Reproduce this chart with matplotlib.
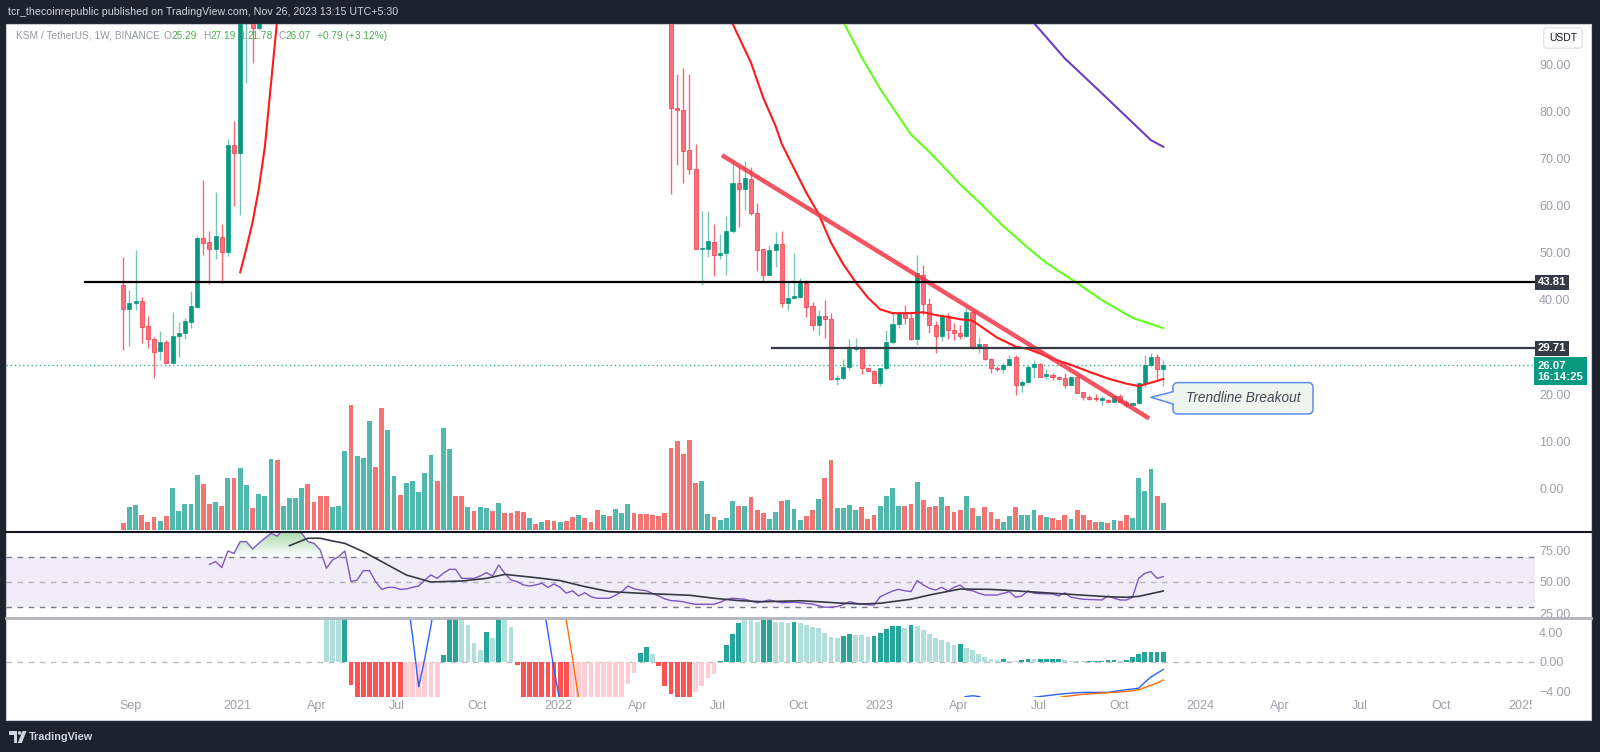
import numpy as np
import pandas as pd
import matplotlib
matplotlib.use("Agg")
import matplotlib.pyplot as plt
import matplotlib.dates as mdates
from matplotlib import font_manager as fm
from matplotlib.colors import to_rgb
from matplotlib.patches import Rectangle, FancyBboxPatch, Polygon, Circle
from matplotlib.lines import Line2D
from matplotlib.path import Path
from matplotlib.transforms import Bbox, IdentityTransform, blended_transform_factory

NaN = float("nan")

# ======================= DATA =======================
first_week = "2020-08-24"
n_weeks = 170
hidden_weeks = 66          # Jan 2021 .. May 2022: candles entirely above the visible range

open_a = [43.1, 38.0, 39.4, 39.8, 34.5, 31.8, 29.1, 31.1, 26.7, 32.3, 32.9, 35.4, 38.6, 53.1, 52.4,
          50.8, 53.5, 50.3, 73.0, 71.2, 104, 120, 97.8]
high_a = [49.1, 42.1, 50.6, 40.6, 36.7, 32.2, 33.3, 31.5, 37.5, 35.4, 36.1, 42.0, 53.7, 65.5, 54.7,
          62.9, 56.2, 74.2, 78.1, 130, 140, 125, 150]
low_a = [29.4, 30.2, 37.9, 30.9, 29.7, 23.3, 27.2, 26.5, 26.5, 27.8, 31.8, 34.0, 38.2, 49.6, 43.4,
         48.7, 43.6, 49.4, 59.9, 58.1, 86.1, 90.4, 97.5]
close_a = [38.0, 39.3, 39.8, 34.3, 31.8, 29.0, 31.1, 26.7, 32.3, 32.9, 35.5, 38.7, 53.1, 52.2, 50.8,
           53.6, 50.3, 73.0, 71.2, 104, 120, 97.8, 140]

open_b = [130, 80.9, 80.4, 71.9, 67.8, 50.8, 50.8, 52.4, 49.5, 49.9,
          54.7, 64.8, 63.6, 65.7, 58.6, 50.8, 45.3, 50.6, 51.9, 39.4,
          40.5, 40.7, 43.7, 38.7, 34.7, 36.6, 36.0, 23.2, 23.5, 25.8,
          29.5, 29.9, 25.5, 25.0, 22.4, 25.5, 31.1, 34.9,
          37.2, 36.2, 31.8, 45.3, 39.1, 34.7, 32.4, 36.6, 33.6, 32.9,
          32.4, 37.5, 29.8, 30.6, 27.4, 25.6, 25.3, 26.2, 27.8, 21.9,
          22.6, 25.8, 26.3, 23.9, 24.0, 23.6, 23.3, 21.9, 23.6, 20.4,
          19.4, 19.2, 18.8, 18.7, 18.4, 19.6, 18.4, 17.7, 18.0, 22.3,
          26.2, 27.9, 25.29]
high_b = [140, 88.1, 89.3, 88.1, 73.2, 58.9, 58.9, 56.1, 54.0, 57.9,
          69.9, 68.4, 69.6, 68.3, 60.7, 50.9, 51.7, 54.5, 54.7, 44.0,
          49.9, 44.6, 44.2, 39.6, 37.9, 40.0, 37.2, 24.0, 27.4, 31.6,
          31.9, 29.9, 25.6, 25.2, 25.5, 33.6, 37.2, 37.7,
          38.9, 37.5, 49.6, 47.4, 40.4, 35.6, 37.0, 37.2, 35.0, 34.7,
          38.6, 38.0, 32.2, 30.6, 27.6, 26.0, 26.5, 28.3, 28.3, 23.0,
          26.2, 27.2, 26.5, 25.4, 24.5, 23.8, 24.4, 23.8, 23.8, 20.5,
          19.8, 20.0, 19.6, 18.9, 19.8, 20.1, 18.8, 18.3, 22.5, 28.3,
          28.7, 28.5, 27.19]
low_b = [62.6, 68.7, 64.8, 66.8, 50.8, 43.2, 49.1, 45.1, 48.7, 45.3,
         54.2, 55.6, 59.1, 58.0, 46.2, 43.8, 45.3, 47.0, 38.6, 37.9,
         40.4, 40.4, 36.4, 33.6, 32.6, 31.9, 23.0, 21.9, 22.9, 25.1,
         29.2, 24.3, 25.0, 22.3, 21.7, 25.1, 30.6, 34.0,
         34.9, 31.5, 30.4, 36.8, 32.9, 28.8, 31.2, 31.6, 31.5, 31.6,
         32.2, 29.5, 28.8, 27.2, 24.4, 24.9, 24.4, 26.0, 19.8, 20.5,
         22.4, 23.3, 23.6, 23.1, 23.0, 22.9, 21.2, 21.7, 20.3, 18.7,
         18.7, 18.6, 17.7, 18.2, 18.2, 18.2, 17.3, 17.6, 17.9, 21.5,
         25.8, 23.1, 21.78]
close_b = [80.9, 80.4, 71.8, 67.9, 50.8, 50.9, 52.6, 49.5, 49.9, 54.7,
           64.8, 63.6, 65.9, 58.6, 50.6, 45.3, 50.6, 51.9, 39.4, 40.5,
           40.7, 43.7, 38.6, 34.7, 36.6, 36.0, 23.2, 23.5, 25.8, 29.5,
           29.7, 25.5, 25.0, 22.4, 25.5, 31.1, 34.9, 37.2,
           36.2, 31.8, 45.7, 39.1, 34.7, 32.4, 36.6, 33.6, 32.9, 32.4,
           37.5, 29.9, 30.6, 27.4, 25.5, 25.3, 26.1, 27.4, 21.9, 22.6,
           25.8, 26.3, 23.7, 24.1, 23.6, 23.2, 21.9, 23.7, 20.3, 19.3,
           18.9, 18.9, 18.9, 18.4, 19.6, 18.4, 17.7, 18.0, 22.3, 26.2,
           27.9, 25.28, 26.07]

# volume (relative units), direction G/R as coloured on the chart
volume_a = [7.3, 23, 25, 15.3, 8, 13, 9, 14.3, 41.7, 18.7,
            25.7, 25.7, 54.7, 46, 25.7, 28.3, 24, 52, 52, 62.3,
            45, 22.3, 36, 34.3, 71, 69.7, 24, 32, 32, 42.3,
            46, 28.3, 33.7, 34.3, 23, 24, 79, 125, 73.7, 72,
            109.3, 63.3, 121.7, 100, 54.3, 35.3, 46.7, 49.3, 38, 57,
            74.7, 49.3, 102.3, 81, 34.3, 34.3, 23, 18.7, 23, 22.3,
            18.7, 26.7, 17, 17, 18.7, 18, 11.7, 6.3, 8.3, 10,
            9, 8.3, 9, 13, 15.3, 12, 8.3, 19.7, 15.3, 13.7,
            20.7, 17, 25.7, 17, 16.3]
volume_b = [16, 15, 14.3, 17, 81.7, 88.7, 76.3, 90.3, 46.7, 49.3,
            16, 13.3, 10, 11.7, 29.3, 24, 24, 32.7, 19.7, 17,
            11, 18, 29.3, 30, 20.7, 10, 13.7, 19.7, 31, 52,
            70, 22, 22, 25, 19.7, 23, 11, 15.3, 24, 33.7,
            42.3, 24, 24, 25.7, 48.3, 30, 23, 24, 32.7, 24,
            18, 19.7, 34.3, 22, 14.3, 23, 18, 11, 8.3, 14.3,
            23, 15.3, 15.3, 19.7, 15.3, 12.7, 11.7, 10, 15.3, 11,
            19.7, 15.3, 10, 8.3, 8.3, 6.7, 10, 9.3, 15.3, 11.7,
            52, 39, 60.7, 34.3, 26.7]
volume_dir = ("RGGRRRGRGG" "GGGRRGRGRG" "GRGGGRGGGG" "RRRRGGGRGG" "GRRGGRGGGG"
              "GRGGRRGRGG" "RGRRRRGRGR" "RGRRGRRRGR" "GGGRR"
              "RRRRRRRRRG" "GRGGGRGRRR" "GGRGGGRRGR" "RGGGGRRRGG" "GGRRGRRRGR"
              "RRGRGRRRGG" "RGGGRGRRRG" "RRRRGRGRRG" "GGGRG")

# moving averages (week index, value)
ema_red_wk_a = [19, 20, 21, 22, 23, 24, 25, 26]
ema_red_val_a = [45.9, 51.0, 56.5, 63.5, 72.5, 86.0, 99.5, 113.0]
ema_red_wk_b = [98, 99, 102, 104, 106, 107, 109, 111, 113, 115, 117, 119, 121, 123, 125, 128, 130,
                132, 134, 136, 138, 140, 142, 145, 147, 149, 151, 154, 157, 160, 163, 165, 167, 169]
ema_red_val_b = [102, 98.8, 90.5, 83, 77, 73.2, 68, 62.8, 58.3, 52.2, 47.6, 43.8, 40.5, 38, 37.2, 37.2,
                 37.4, 36.8, 36.4, 35.9, 35.6, 33.8, 32, 30.1, 29.6, 28.6, 27.5, 26.2, 24.7, 23.3,
                 22.2, 21.7, 22.4, 23.2]
ema_green_wk = [116, 117, 120, 123, 128, 131, 136, 139, 143, 147, 150, 155, 159, 164, 169]
ema_green_val = [101.3, 99.2, 91.6, 84.9, 75.2, 71.5, 64.6, 60.9, 55.7, 51.1, 47.9, 43.6, 40.0, 36.2, 34.0]
ema_purple_wk = [147, 148, 153, 159, 165, 167, 169]
ema_purple_val = [100.7, 98.9, 91.4, 84.0, 76.5, 74.0, 72.6]

# drawings
trend_dates = ["2022-07-06", "2023-11-04"]
trend_prices = [70.8, 14.8]
level_prices = [43.81, 29.71]
level_starts = ["2020-07-12", "2022-09-01"]
last_price = 26.07
countdown = "16:14:25"
callout_text = "Trendline Breakout"
callout_week = 167
callout_price = 19.3

# RSI(14) and its MA
rsi_first_week = 14
rsi_values = [64.1, 66.3, 61.5, 74.8, 72.9, 82.3, 82.3, 76.4, 80.9, 85.0,
              88.9, 86.8, 92.0, 93.0, 91.0, 89.0, 82.3, 80.9, 75.6, 61.0,
              67.6, 70.3, 74.8, 50.3, 51.6, 59.1, 59.1, 50.3, 44.1, 45.7,
              45.7, 44.1, 44.5, 45.7, 46.8, 51.6, 55.6, 52.9, 57.0, 60.1,
              60.1, 52.9, 52.9, 52.9, 54.8, 57.5, 54.8, 63.6, 56.9, 51.6,
              50.3, 47.6, 46.8, 47.6, 49.0, 45.7, 48.4, 45.7, 41.0, 43.0,
              38.8, 41.4, 38.2, 37.0, 37.0, 37.0, 39.5, 42.3, 46.8, 44.5,
              43.6, 43.0, 40.8, 38.8, 36.5, 35.1, 34.8, 34.2, 33.0, 32.2,
              32.2, 32.2, 32.2, 33.8, 36.0, 37.0, 36.6, 36.2, 34.8, 33.4,
              34.5, 35.6, 34.5, 33.4, 33.6, 33.8, 33.4, 32.8, 32.4, 31.0,
              29.8, 30.0, 30.3, 32.0, 34.2, 33.0, 32.3, 31.8, 31.6, 38.2,
              40.5, 42.8, 44.1, 43.0, 42.3, 51.1, 47.6, 45.0, 43.6, 45.7,
              42.8, 45.7, 47.6, 43.6, 43.0, 41.0, 39.6, 39.6, 39.6, 41.0,
              42.3, 37.8, 38.8, 42.8, 41.0, 40.7, 40.5, 40.4, 38.8, 41.4,
              37.8, 37.0, 36.2, 36.0, 35.8, 35.6, 38.8, 37.0, 35.6, 35.6,
              37.8, 52.9, 56.9, 58.3, 52.9, 54.3]
rsi_ma_wk = [27, 29, 30, 32, 34, 36, 39, 43, 46, 50, 55, 59, 62, 67, 71, 75, 79, 84, 88, 92,
             96, 100, 104, 110, 113, 117, 120, 123, 128, 131, 136, 141, 147, 153, 160, 163, 165, 169]
rsi_ma_val = [79.1, 83.0, 85.0, 85.0, 82.8, 80.9, 74.3, 63.6, 55.6, 50.0, 50.8, 52.9, 56.1, 53.5,
              51.1, 46.3, 42.3, 41.0, 40.2, 39.4, 37.0, 35.1, 34.2, 35.0, 34.2, 33.0, 32.4, 33.0,
              36.2, 39.6, 44.4, 44.1, 42.3, 40.4, 38.2, 37.8, 38.5, 42.8]

# MACD histogram (weeks 33..169) with its colour code D/L/R/P
hist_first_week = 33
hist_values = [8, 8, 8, 8, -3.1, -8, -8, -8, -8, -8, -8, -8, -8,
               -8, -8, -8, -8, -8, -8,
               0.9, 8, 8, 8, 4.9, 2.5, 1.6, 4.0, 3.2, 8, 8, 4.7,
               -0.4, -8, -8, -8, -8, -8, -8, -8, -8,
               -8, -8, -8, -8, -8, -8, -8, -8, -8, -2.9, -1.5,
               1.2, 2.0, 1.1, -0.5, -3.2, -4.3, -8, -8, -8, -4.0, -3.2, -2.2, -1.6,
               0.1, 2.3, 3.8, 5.2, 5.6, 5.6, 5.4, 5.6, 6.0, 5.4, 5.3, 5.2, 5.4,
               5.16, 4.93, 4.71, 4.6, 3.91, 3.38, 3.24, 3.47, 3.73, 3.6,
               3.6, 3.38, 3.47, 3.82, 4.36, 4.8, 4.85, 4.49, 4.93, 4.8,
               4.27, 3.69, 3.24, 2.93, 2.62, 2.27, 2.4, 1.91, 1.6, 1.07,
               0.71, 0.4, 0.31, 0.44, 0.18, 0.15, 0.27, 0.4, 0.35, 0.38,
               0.4, 0.42, 0.44, 0.27, 0.18, 0.13, 0.09, 0.18, 0.18, 0.18,
               0.22, 0.27, 0.18, 0.3, 0.62, 1.07, 1.38, 1.4, 1.4, 1.4]
hist_colors = ("LLLD" "R" "RRRRRRRR" "PPPPPP" "DDDLLLLDLDLL" "R" "RRRRRRRR" "PPPPPPPPPPP"
               "DDL" "RRRRRR" "PPPP" "DDDDLLLDDLLLD"
               "LLLLLLLDDL" "LLDDDDDLDL" "LLLLLLDLLL" "LLLDLLDDLD" "DDDLLLLDDD" "DDLDDDDDDD")
macd_wk_a = [45, 46, 47, 48, 49, 50, 51]
macd_val_a = [14, 9.5, 3.5, -3.3, 0.5, 4.9, 10]
macd_wk_b = [67, 68, 69, 70, 71, 72]
macd_val_b = [14, 9, 4, -1, -5.5, -10]
macd_wk_c = [135, 136, 137, 138, 139, 140, 141]
macd_val_c = [-5.5, -4.9, -4.6, -4.5, -4.6, -4.9, -5.3]
macd_wk_d = [146, 147, 148, 150, 152, 154, 156, 158, 160, 162, 164, 165, 166, 167, 168, 169]
macd_val_d = [-5.2, -4.9, -4.7, -4.5, -4.3, -4.15, -4.05, -4.05, -4.05, -3.8, -3.6, -3.5, -2.7, -2.0, -1.5, -1.0]
signal_wk_a = [71, 72, 73, 74, 75]
signal_val_a = [10, 5.5, 0.5, -5, -10]
signal_wk_b = [150, 151, 153, 156, 159, 162, 164, 165, 166, 167, 168, 169]
signal_val_b = [-5.2, -4.9, -4.6, -4.3, -4.15, -4.0, -3.85, -3.7, -3.4, -3.1, -2.8, -2.4]

price_ticks = [0, 10, 20, 40, 50, 60, 70, 80, 90]
rsi_ticks = [25, 50, 75]
macd_ticks = [-4, 0, 4]
date_ticks = ["2020-09-01", "2021-01-01", "2021-04-01", "2021-07-01", "2021-10-01", "2022-01-01",
              "2022-04-01", "2022-07-01", "2022-10-01", "2023-01-01", "2023-04-01", "2023-07-01",
              "2023-10-01", "2024-01-01", "2024-04-01", "2024-07-01", "2024-10-01", "2025-01-01"]
date_labels = ["Sep", "2021", "Apr", "Jul", "Oct", "2022", "Apr", "Jul", "Oct", "2023", "Apr", "Jul",
               "Oct", "2024", "Apr", "Jul", "Oct", "2025"]
header_text = "tcr_thecoinrepublic published on TradingView.com, Nov 26, 2023 13:15 UTC+5:30"
symbol_text = "KSM / TetherUS, 1W, BINANCE"

# ======================= STYLE =======================
names = {f.name for f in fm.fontManager.ttflist}
FONT = "Liberation Sans Narrow" if "Liberation Sans Narrow" in names else "Liberation Sans"
plt.rcParams["font.family"] = [FONT, "DejaVu Sans"]

W, H = 1600, 752
DARK = "#1e222d"
UP, DOWN = "#089981", "#f23645"
AXTXT = "#9da0a8"
LBL = 9.0
TAG = 8.2

def fx(px):
    return px / W

def fy(py):
    return 1 - py / H

fig = plt.figure(figsize=(16, 7.52), dpi=100, facecolor=DARK)
fig.patches.append(Rectangle((fx(6), fy(720)), fx(1591) - fx(6), fy(24) - fy(720),
                             transform=fig.transFigure, facecolor="white",
                             edgecolor="#c9ccd4", lw=0.8, zorder=-5))

PL, PR = 6, 1535
AXW = PR - PL

def add_ax(top, bottom):
    a = fig.add_axes([fx(PL), fy(bottom), fx(PR) - fx(PL), fy(top) - fy(bottom)])
    a.set_facecolor("none")
    for s in a.spines.values():
        s.set_visible(False)
    return a

ax_vol = add_ax(24, 532)
ax = add_ax(24, 532)
ax_rsi = add_ax(532, 618)
ax_macd = add_ax(618, 697)

weeks = pd.date_range(first_week, periods=n_weeks, freq="7D")
x = mdates.date2num(weeks.to_pydatetime())
px_per_day = 0.8791
x0 = x[0] - (123.3 - PL) / px_per_day
x1 = x[0] + (PR - 123.3) / px_per_day
for a in (ax_vol, ax, ax_rsi, ax_macd):
    a.set_xlim(x0, x1)

opens = np.array(open_a + [NaN] * hidden_weeks + open_b)
highs = np.array(high_a + [NaN] * hidden_weeks + high_b)
lows = np.array(low_a + [NaN] * hidden_weeks + low_b)
closes = np.array(close_a + [NaN] * hidden_weeks + close_b)
volume = np.array(volume_a + volume_b)
assert len(opens) == n_weeks and len(volume) == n_weeks and len(volume_dir) == n_weeks

# ---------- volume ----------
vcol = ["#26a69a" if d == "G" else "#ef5350" for d in volume_dir]
ax_vol.bar(x, volume, width=5.5, color=vcol, alpha=0.8, linewidth=0)
ax_vol.set_ylim(-2, 506)
ax_vol.set_xticks([]); ax_vol.set_yticks([])

# ---------- price pane ----------
ax.set_ylim(-9.36, 98.72)
valid = ~np.isnan(opens)
up = (closes >= opens) & valid
dn = (closes < opens) & valid
ax.vlines(x[up], lows[up], highs[up], color=UP, alpha=0.55, lw=1, zorder=3)
ax.vlines(x[dn], lows[dn], highs[dn], color=DOWN, alpha=0.75, lw=1, zorder=3)
body_lo = np.minimum(opens, closes)
body_h = np.maximum(np.abs(closes - opens), 0.3)
ax.bar(x[up], body_h[up], bottom=body_lo[up], width=4.6, color=UP, edgecolor=UP, lw=0.5, zorder=4)
ax.bar(x[dn], body_h[dn], bottom=body_lo[dn], width=4.6, color="#f7707a", edgecolor=DOWN, lw=0.5, zorder=4)

ax.plot(x[ema_red_wk_a], ema_red_val_a, color="#ff1a1a", lw=1.5, zorder=5)
ax.plot(x[ema_red_wk_b], ema_red_val_b, color="#ff1a1a", lw=1.5, zorder=5)
ax.plot(x[ema_green_wk], ema_green_val, color="#63ff1a", lw=1.5, zorder=5)
ax.plot(x[ema_purple_wk], ema_purple_val, color="#6a3fc1", lw=1.5, zorder=5)

td = mdates.date2num(pd.to_datetime(trend_dates).to_pydatetime())
ax.plot(td, trend_prices, color="#f23645", lw=3.2, alpha=0.85, solid_capstyle="butt", zorder=6)

for lvl, st, col in zip(level_prices, level_starts, ["#000000", "#363a45"]):
    xs = mdates.date2num(pd.Timestamp(st).to_pydatetime())
    ax.plot([xs, x1], [lvl, lvl], color=col, lw=1.6, zorder=6, clip_on=False)

ax.axhline(last_price, color=UP, lw=1, ls=(0, (1, 2)), alpha=0.8, zorder=2)

ax.yaxis.tick_right()
ax.set_yticks(price_ticks)
ax.set_yticklabels([f"{t:.2f}" for t in price_ticks])
ax.tick_params(axis="y", length=0, pad=3.0, labelsize=LBL, labelcolor=AXTXT)
ax.set_xticks([])

tb = blended_transform_factory(ax.transAxes, ax.transData)
for lvl in level_prices:
    ax.text(1 + 2.5 / AXW, lvl, f"{lvl:.2f}", transform=tb, ha="left", va="center", fontsize=TAG,
            color="white", fontweight="bold", clip_on=False, zorder=10,
            bbox=dict(boxstyle="square,pad=0.22", fc="#363a45", ec="none"))
ax.text(1 + 2.5 / AXW, last_price - 1.2, f"{last_price:.2f}\n{countdown}", transform=tb, ha="left",
        va="center", fontsize=TAG, color="white", fontweight="bold", clip_on=False, zorder=10,
        linespacing=1.15, bbox=dict(boxstyle="square,pad=0.3", fc=UP, ec="none"))

# ---------- RSI pane ----------
ax_rsi.set_ylim(21.2, 90)
ax_rsi.fill_between([x0, x1], 30, 70, color="#7e57c2", alpha=0.1, lw=0)
for lvl, al in ((70, 1.0), (50, 0.5), (30, 1.0)):
    ax_rsi.axhline(lvl, color="#787b86", lw=1, ls=(0, (4, 4)), alpha=al)
rsi_wk = np.arange(rsi_first_week, rsi_first_week + len(rsi_values))
rx = x[rsi_wk]
ry = np.array(rsi_values)
fb = ax_rsi.fill_between(rx, ry, 70, where=ry > 70, interpolate=True, color="none", lw=0)
paths = fb.get_paths()
if paths:
    cp = Path.make_compound_path(*paths)
    grad = np.zeros((256, 1, 4))
    grad[..., :3] = to_rgb("#4caf50")
    grad[..., 3] = np.linspace(0, 0.7, 256)[:, None]
    im = ax_rsi.imshow(grad, extent=[rx[0], rx[-1], 70, 100], origin="lower", aspect="auto", zorder=1)
    im.set_clip_path(cp, transform=ax_rsi.transData)
ax_rsi.set_xlim(x0, x1); ax_rsi.set_ylim(21.2, 90)
ax_rsi.plot(rx, ry, color="#7e57c2", lw=1, zorder=3)
ax_rsi.plot(x[rsi_ma_wk], rsi_ma_val, color="#363a45", lw=1.2, zorder=3)
ax_rsi.yaxis.tick_right()
ax_rsi.set_yticks(rsi_ticks)
ax_rsi.set_yticklabels([f"{t:.2f}" for t in rsi_ticks])
ax_rsi.tick_params(axis="y", length=0, pad=3.0, labelsize=LBL, labelcolor=AXTXT)
ax_rsi.set_xticks([])

# ---------- MACD pane ----------
ax_macd.set_ylim(-4.667, 5.867)
hx = x[hist_first_week: hist_first_week + len(hist_values)]
cmap = {"D": "#26a69a", "L": "#b2dfdb", "R": "#ff5252", "P": "#ffcdd2"}
ax_macd.bar(hx, hist_values, width=5.4, color=[cmap[c] for c in hist_colors], lw=0, zorder=2)
ax_macd.axhline(0, color="#787b86", lw=1, ls=(0, (4, 4)), alpha=0.5, zorder=1)
for wk, vals in ((macd_wk_a, macd_val_a), (macd_wk_b, macd_val_b), (macd_wk_c, macd_val_c), (macd_wk_d, macd_val_d)):
    ax_macd.plot(x[wk], vals, color="#2962ff", lw=1, zorder=3)
for wk, vals in ((signal_wk_a, signal_val_a), (signal_wk_b, signal_val_b)):
    ax_macd.plot(x[wk], vals, color="#ff6d00", lw=1, zorder=3)
ax_macd.yaxis.tick_right()
ax_macd.set_yticks(macd_ticks)
ax_macd.set_yticklabels([f"{t:.2f}".replace("-", "\u2212") for t in macd_ticks])
ax_macd.tick_params(axis="y", length=0, pad=3.0, labelsize=LBL, labelcolor=AXTXT)
ax_macd.set_xticks([])

# date labels along the time scale, clipped at the price-scale edge
dt = mdates.date2num(pd.to_datetime(date_ticks).to_pydatetime())
clipbox = Bbox([[PL, 0], [PR - 3, H]])
for d, s in zip(dt, date_labels):
    xd, _ = ax_macd.transData.transform((d, 0))
    t = fig.text(xd / W, fy(706), s, ha="center", va="center", fontsize=LBL, color=AXTXT)
    t.set_clip_on(True)
    t.set_clip_box(clipbox)

# ---------- pane separators ----------
fig.add_artist(Line2D([fx(6), fx(1591)], [fy(532), fy(532)], color="#131722", lw=1.5, transform=fig.transFigure))
fig.add_artist(Line2D([fx(6), fx(1591)], [fy(618), fy(618)], color="#b2b5be", lw=2, transform=fig.transFigure))

# ---------- header / legend ----------
fig.text(fx(8), fy(12), header_text, color="#d1d4dc", fontsize=7.7, va="center", ha="left")
renderer = fig.canvas.get_renderer()
xp = 16.0
chg = closes[-1] - closes[-2]
pieces = [(symbol_text, "#9598a1", 4), ("O", "#9598a1", 0), (f"{opens[-1]:.2f}", "#4caf50", 6),
          ("H", "#9598a1", 0), (f"{highs[-1]:.2f}", "#4caf50", 6), ("L", "#9598a1", 0),
          (f"{lows[-1]:.2f}", "#4caf50", 6), ("C", "#9598a1", 0), (f"{closes[-1]:.2f}", "#4caf50", 6),
          (f"{chg:+.2f} ({chg / closes[-2] * 100:+.2f}%)", "#4caf50", 0)]
for s, c, gap in pieces:
    t = fig.text(xp / W, fy(36), s, color=c, fontsize=7.3, va="center", ha="left", zorder=30)
    bb = t.get_window_extent(renderer)
    xp = bb.x1 + gap

# USDT box
fig.text(fx(1563), fy(38), "USDT", color="#131722", fontsize=7.5, ha="center", va="center",
         bbox=dict(boxstyle="round,pad=0.5,rounding_size=0.3", fc="white", ec="#e0e3eb", lw=1))

# ---------- callout ----------
tx, ty = ax.transData.transform((x[callout_week], callout_price))
CB = "#5b8def"
CF = "#eef5ef"
box = FancyBboxPatch((tx + 22, ty - 16.7), 140, 31.4, boxstyle="round,pad=0,rounding_size=5",
                     fc=CF, ec=CB, lw=1.1, transform=IdentityTransform(), zorder=20)
fig.add_artist(box)
fig.add_artist(Polygon([(tx, ty), (tx + 23.2, ty + 5.6), (tx + 23.2, ty - 6.7)], closed=True,
                       fc=CF, ec="none", transform=IdentityTransform(), zorder=21))
fig.add_artist(Line2D([tx + 22, tx, tx + 22], [ty + 5.6, ty, ty - 6.7], color=CB, lw=1.1,
                      transform=IdentityTransform(), zorder=22))
fig.text(tx + 92, ty - 1, callout_text, transform=IdentityTransform(), ha="center", va="center",
         fontsize=9.8, style="italic", color="#434651", zorder=23, family=["Liberation Sans", "DejaVu Sans"])

# ---------- TradingView logo ----------
LC = "#d1d4dc"
fig.add_artist(Polygon([(fx(9), fy(731)), (fx(17), fy(731)), (fx(17), fy(743)), (fx(13.5), fy(743)),
                        (fx(13.5), fy(734.5)), (fx(9), fy(734.5))], closed=True, fc=LC, ec="none",
                       transform=fig.transFigure))
fig.add_artist(Circle((19.6, H - 733), 1.8, fc=LC, ec="none", transform=IdentityTransform()))
fig.add_artist(Polygon([(fx(22.5), fy(731)), (fx(26.5), fy(731)), (fx(21.8), fy(743)), (fx(17.8), fy(743))],
                       closed=True, fc=LC, ec="none", transform=fig.transFigure))
fig.text(fx(29), fy(737), "TradingView", color=LC, fontsize=7.8, fontweight="bold", va="center", ha="left")

fig.savefig("out.png", dpi=100, facecolor=DARK)
